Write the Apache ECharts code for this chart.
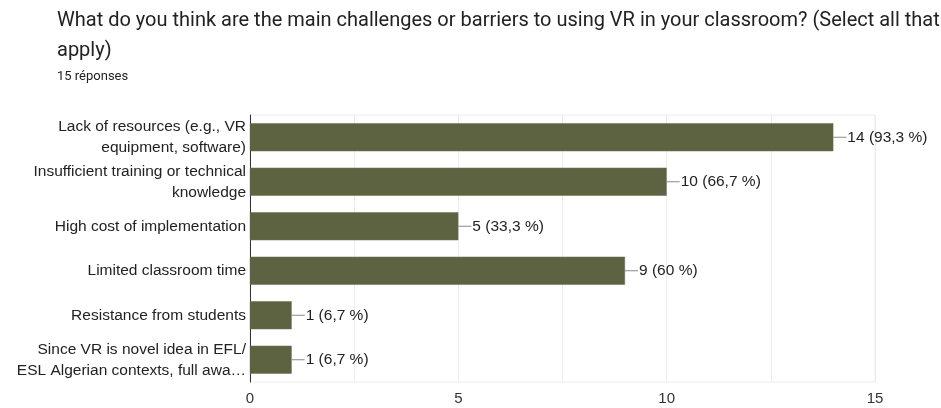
<!DOCTYPE html>
<html>
<head>
<meta charset="utf-8">
<script src="https://cdn.jsdelivr.net/npm/echarts@6/dist/echarts.min.js"></script>
<style>
  html, body { margin: 0; padding: 0; background: #fff; }
  #chart { width: 941px; height: 408px; }
</style>
</head>
<body>
<div id="chart"></div>
<script>
// Survey answers and response counts
const categories = [
  'Lack of resources (e.g., VR\nequipment, software)',
  'Insufficient training or technical\nknowledge',
  'High cost of implementation',
  'Limited classroom time',
  'Resistance from students',
  'Since VR is novel idea in EFL/\nESL Algerian contexts, full awa…'
];
const counts = [14, 10, 5, 9, 1, 1];
const percents = ['93,3', '66,7', '33,3', '60', '6,7', '6,7'];
const tickLabels = ['0', '5', '10', '15'];

const chart = echarts.init(document.getElementById('chart'));
chart.setOption({
  animation: false,
  title: [
    {
      text: 'What do you think are the main challenges or barriers to using VR in your classroom? (Select all that\napply)',
      left: 57, top: 6, padding: 0,
      textStyle: { fontFamily: 'Roboto', fontSize: 20, fontWeight: 'normal', color: '#222', lineHeight: 30 }
    },
    {
      text: '15 réponses',
      left: 57, top: 70, padding: 0,
      textStyle: { fontFamily: 'Roboto', fontSize: 13, fontWeight: 'normal', color: '#222' }
    }
  ],
  grid: {
    left: 250, right: 66, top: 115, bottom: 26,
    show: true, borderColor: '#ececec', borderWidth: 1
  },
  xAxis: {
    type: 'value', min: 0, max: 15, interval: 2.5,
    axisLine: { show: false },
    axisTick: { show: false },
    splitLine: { lineStyle: { color: '#ececec' } },
    axisLabel: {
      fontFamily: 'Liberation Sans', fontSize: 15, color: '#333', margin: 9,
      formatter: v => tickLabels.includes(String(v)) ? String(v) : ''
    }
  },
  yAxis: {
    type: 'category', data: categories, inverse: true,
    axisLine: { show: true, lineStyle: { color: '#333', width: 1 } },
    axisTick: { show: false },
    axisLabel: {
      fontFamily: 'Liberation Sans', fontSize: 15.5, color: '#222', lineHeight: 21, margin: 4, align: 'right'
    }
  },
  series: [{
    type: 'bar',
    data: counts,
    barWidth: '63%',
    itemStyle: { color: '#5d6341', borderColor: '#6b7050', borderWidth: 0.5 },
    label: {
      show: true, position: 'right', distance: 0,
      formatter: p => '{ln|}{t|' + counts[p.dataIndex] + ' (' + percents[p.dataIndex] + ' %)}',
      rich: {
        ln: { width: 13, height: 1, backgroundColor: '#888', verticalAlign: 'middle' },
        t: { fontFamily: 'Liberation Sans', fontSize: 15.5, color: '#222', padding: [0, 0, 0, 1] }
      }
    }
  }]
});
</script>
</body>
</html>
